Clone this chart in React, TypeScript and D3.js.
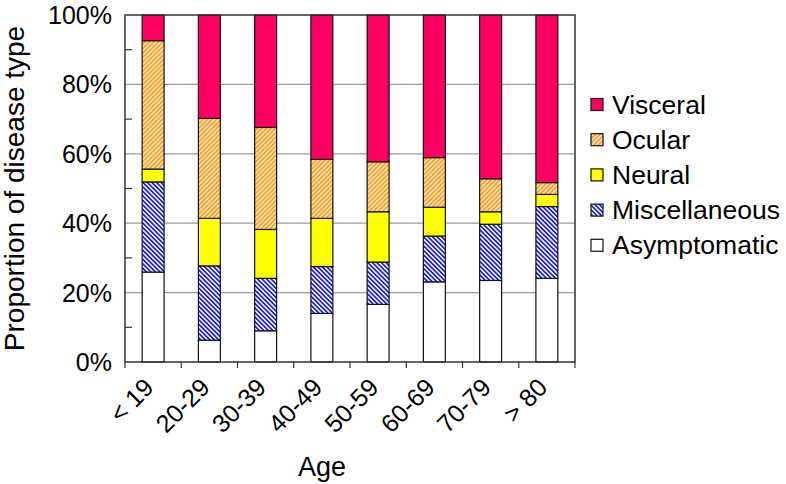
import React from "react";
import * as d3 from "d3";

const ageGroups = ["< 19", "20-29", "30-39", "40-49", "50-59", "60-69", "70-79", "> 80"];
const seriesKeys = ["Asymptomatic", "Miscellaneous", "Neural", "Ocular", "Visceral"];
const asymptomatic = [25.9, 6.3, 9.0, 14.0, 16.6, 23.1, 23.5, 24.1];
const miscellaneous = [26.0, 21.4, 15.1, 13.5, 12.2, 13.2, 16.2, 20.7];
const neural = [3.7, 13.7, 14.1, 13.9, 14.5, 8.3, 3.6, 3.5];
const ocular = [37.0, 28.8, 29.4, 17.0, 14.4, 14.3, 9.5, 3.4];
const visceral = [7.4, 29.8, 32.4, 41.6, 42.3, 41.1, 47.2, 48.3];
const yTicks = [0, 20, 40, 60, 80, 100];
const yMinorTicks = [10, 30, 50, 70, 90];
const legendOrder = ["Visceral", "Ocular", "Neural", "Miscellaneous", "Asymptomatic"];

const W = 786;
const H = 484;
const M = { left: 125, right: 575, top: 15, bottom: 362 };
const FONT = "'Liberation Sans', Arial, Helvetica, sans-serif";

const fills: Record<string, string> = {
  Visceral: "#FF0062",
  Ocular: "url(#hatchOcular)",
  Neural: "#FFFF00",
  Miscellaneous: "url(#hatchMisc)",
  Asymptomatic: "#FFFFFF",
};

export default function App() {
  const table = ageGroups.map((g, i) => ({
    group: g,
    Asymptomatic: asymptomatic[i],
    Miscellaneous: miscellaneous[i],
    Neural: neural[i],
    Ocular: ocular[i],
    Visceral: visceral[i],
  }));
  const stacked = d3.stack<any>().keys(seriesKeys)(table);
  const x = d3.scaleBand<string>().domain(ageGroups).range([M.left, M.right]);
  const y = d3.scaleLinear().domain([0, 100]).range([M.bottom, M.top]);
  const barW = x.bandwidth() * 0.39;
  const boundaries = ageGroups.map((g) => x(g) as number).concat([M.right]);

  return (
    <svg
      width={W}
      height={H}
      style={{ position: "absolute", left: 0, top: 0, background: "#fff" }}
      fontFamily={FONT}
    >
      <defs>
        <pattern id="hatchOcular" patternUnits="userSpaceOnUse" width={3.2} height={3.2} patternTransform="rotate(45)">
          <rect width={3.2} height={3.2} fill="#FFE3A6" />
          <rect width={1.7} height={3.2} fill="#F2A23A" />
        </pattern>
        <pattern id="hatchMisc" patternUnits="userSpaceOnUse" width={3.2} height={3.2} patternTransform="rotate(-45)">
          <rect width={3.2} height={3.2} fill="#FFFFFF" />
          <rect width={1.7} height={3.2} fill="#1C1CD6" />
        </pattern>
      </defs>

      {/* gridlines */}
      {yTicks.filter((t) => t > 0 && t < 100).map((t) => (
        <line key={"g" + t} x1={M.left} x2={M.right} y1={y(t)} y2={y(t)} stroke="#9a9a9a" strokeWidth={1.2} />
      ))}

      {/* bars */}
      {stacked.map((layer) => (
        <g key={layer.key}>
          {layer.map((d, i) => {
            const cx = (x(ageGroups[i]) as number) + x.bandwidth() / 2;
            return (
              <rect
                key={i}
                x={cx - barW / 2}
                y={y(d[1])}
                width={barW}
                height={y(d[0]) - y(d[1])}
                fill={fills[layer.key]}
                stroke="#111"
                strokeWidth={1.2}
              />
            );
          })}
        </g>
      ))}

      {/* frame */}
      <rect x={M.left} y={M.top} width={M.right - M.left} height={M.bottom - M.top} fill="none" stroke="#333" strokeWidth={1.5} />

      {/* minor ticks on y axis */}
      {yMinorTicks.map((t) => (
        <line key={"m" + t} x1={M.left} x2={M.left + 7} y1={y(t)} y2={y(t)} stroke="#333" strokeWidth={1.2} />
      ))}

      {/* y tick labels */}
      {yTicks.map((t) => (
        <text key={"yl" + t} x={112} y={y(t) + 9} textAnchor="end" fontSize={25} fill="#000">
          {t + "%"}
        </text>
      ))}

      {/* x ticks */}
      {boundaries.map((b, i) => (
        <line key={"xt" + i} x1={b} x2={b} y1={M.bottom} y2={M.bottom + 6} stroke="#333" strokeWidth={1.2} />
      ))}

      {/* x tick labels */}
      {ageGroups.map((g) => {
        const cx = (x(g) as number) + x.bandwidth() / 2;
        return (
          <text
            key={"xl" + g}
            transform={`translate(${cx + 2},${M.bottom + 27}) rotate(-45)`}
            textAnchor="end"
            fontSize={25}
            fill="#000"
          >
            {g}
          </text>
        );
      })}

      {/* axis titles */}
      <text x={322} y={476} textAnchor="middle" fontSize={27} fill="#000">
        Age
      </text>
      <text transform={`translate(24,${(M.top + M.bottom) / 2}) rotate(-90)`} textAnchor="middle" fontSize={28} fill="#000">
        Proportion of disease type
      </text>

      {/* legend */}
      {legendOrder.map((k, i) => {
        const cy = 104.5 + i * 35.2;
        return (
          <g key={"lg" + k}>
            <rect x={591} y={cy - 6} width={12} height={12} fill={fills[k]} stroke="#111" strokeWidth={1.2} />
            <text x={612} y={cy + 9} fontSize={26.5} fill="#000">
              {k}
            </text>
          </g>
        );
      })}
    </svg>
  );
}
